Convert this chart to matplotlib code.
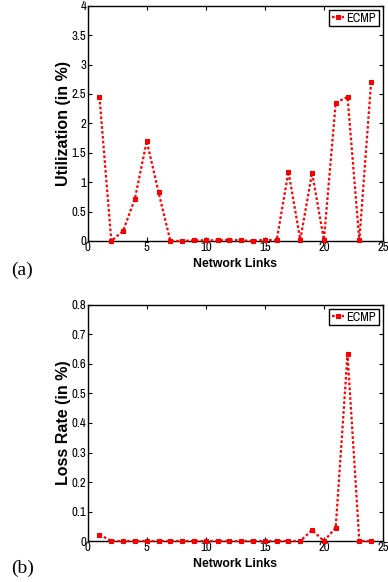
import matplotlib
matplotlib.use("Agg")
import matplotlib.pyplot as plt
from matplotlib.ticker import FuncFormatter

links = list(range(1, 25))
utilization = [2.45, 0.0, 0.17, 0.72, 1.70, 0.83, 0.0, 0.0, 0.01, 0.01, 0.01, 0.02,
               0.01, 0.0, 0.02, 0.01, 1.18, 0.02, 1.16, 0.02, 2.35, 2.45, 0.01, 2.71]
loss_rate = [0.022, 0.0, 0.0, 0.0, 0.0, 0.0, 0.0, 0.0, 0.0, 0.0, 0.0, 0.0,
             0.0, 0.0, 0.0, 0.0, 0.0, 0.0, 0.037, 0.0, 0.045, 0.633, 0.0, 0.0]
series_name = "ECMP"
x_label = "Network Links"
y_labels = ["Utilization (in %)", "Loss Rate (in %)"]
panel_labels = ["(a)", "(b)"]

narrow = ["Archivo Narrow", "Liberation Sans", "DejaVu Sans"]
boldfam = ["Liberation Sans", "DejaVu Sans"]

fig = plt.figure(figsize=(3.88, 5.82), dpi=100)
ax1 = fig.add_axes([0.226, 0.586, 0.761, 0.404])
ax2 = fig.add_axes([0.226, 0.0704, 0.761, 0.4056])

fmt = FuncFormatter(lambda v, p: "%g" % round(v, 6))

for ax, data, ylab, ymax, ystep in [(ax1, utilization, y_labels[0], 4, 0.5),
                                     (ax2, loss_rate, y_labels[1], 0.8, 0.1)]:
    ax.plot(links, data, linestyle=(0, (1.2, 1.0)), color="#ff0000", linewidth=1.6,
            marker="s", markersize=3.5, markeredgewidth=0.8, markeredgecolor="#ee0000",
            markerfacecolor="#ff0000", label=series_name, clip_on=False, zorder=3)
    ax.set_xlim(0, 25)
    ax.set_ylim(0, ymax)
    ax.set_xticks(range(0, 26, 5))
    n = int(round(ymax / ystep))
    ax.set_yticks([i * ystep for i in range(n + 1)])
    ax.xaxis.set_major_formatter(fmt)
    ax.yaxis.set_major_formatter(fmt)
    ax.tick_params(direction="in", top=True, right=True, length=3, width=0.8,
                   labelsize=9, pad=1.0)
    for lab in ax.get_xticklabels() + ax.get_yticklabels():
        lab.set_family(narrow)
        lab.set_fontsize(9.2)
    for s in ax.spines.values():
        s.set_linewidth(1.0)
    ax.set_xlabel(x_label, fontsize=8.8, fontweight="bold", family=boldfam)
    ax.set_ylabel(ylab, fontsize=11.5, fontweight="bold", family=boldfam)
    ax.xaxis.set_label_coords(0.5, -0.072)
    ax.yaxis.set_label_coords(-0.057, 0.5)
    leg = ax.legend(loc="upper right", prop={"family": narrow, "size": 9},
                    handlelength=1.0, handletextpad=0.2, borderpad=0.2,
                    borderaxespad=0.35, fancybox=False, framealpha=1)
    leg.get_frame().set_edgecolor("black")
    leg.get_frame().set_linewidth(1.0)

fig.text(0.057, 1 - 270 / 582, panel_labels[0], fontsize=14, family="Liberation Serif",
         ha="center", va="center")
fig.text(0.057, 1 - 568 / 582, panel_labels[1], fontsize=14, family="Liberation Serif",
         ha="center", va="center")

fig.savefig("out.png", dpi=100)
